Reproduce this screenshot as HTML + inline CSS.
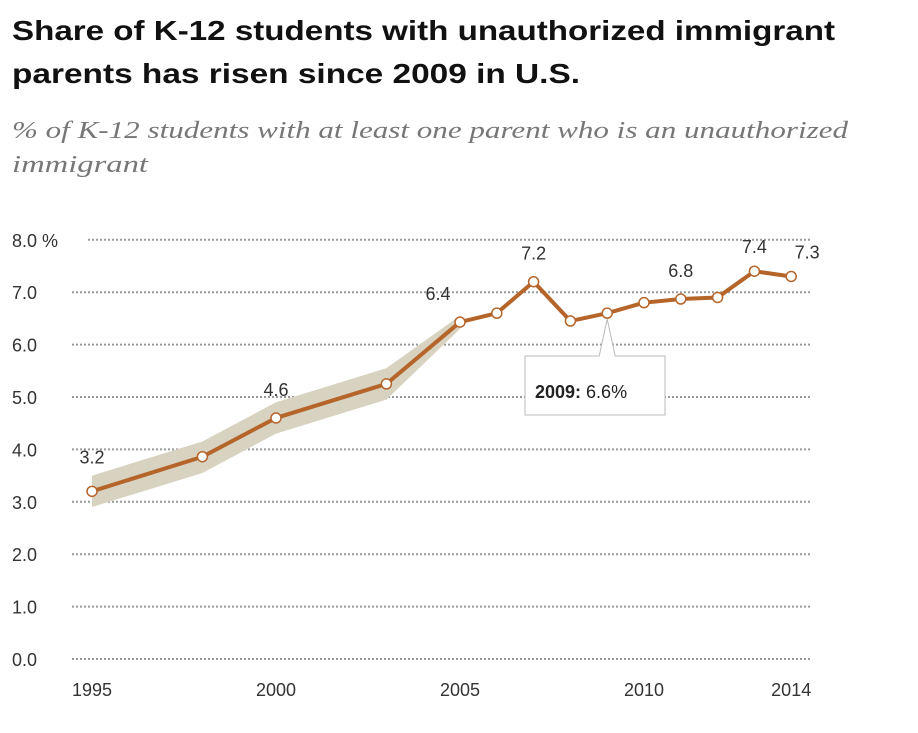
<!DOCTYPE html>
<html><head><meta charset="utf-8"><style>
body{margin:0;background:#fff;width:918px;height:728px;overflow:hidden;font-family:"Liberation Sans",sans-serif}
</style></head><body>
<svg width="918" height="728">
<text x="12" y="40" font-size="28" font-weight="bold" fill="#111" textLength="823" lengthAdjust="spacingAndGlyphs">Share of K-12 students with unauthorized immigrant</text>
<text x="12" y="83" font-size="28" font-weight="bold" fill="#111" textLength="568" lengthAdjust="spacingAndGlyphs">parents has risen since 2009 in U.S.</text>
<text x="12" y="138" font-size="24" font-style="italic" fill="#777" font-family="Liberation Serif" textLength="836" lengthAdjust="spacingAndGlyphs">% of K-12 students with at least one parent who is an unauthorized</text>
<text x="12" y="172" font-size="24" font-style="italic" fill="#777" font-family="Liberation Serif" textLength="136" lengthAdjust="spacingAndGlyphs">immigrant</text>
<g id="grid"></g><g id="band"></g><g id="line"></g><g id="pts"></g><g id="labels"></g>
</svg>
<script>
const years=[1995,1998,2000,2003,2005,2006,2007,2008,2009,2010,2011,2012,2013,2014];
const values=[3.2,3.86,4.6,5.25,6.43,6.6,7.2,6.45,6.6,6.8,6.87,6.9,7.4,7.3];
const bandYears=[1995,1998,2000,2003,2005];
const bandLow=[2.9,3.55,4.3,4.95,6.3];
const bandHigh=[3.5,4.15,4.9,5.55,6.55];
const yTicks=[0,1,2,3,4,5,6,7,8];
const xTicks=[1995,2000,2005,2010,2014];
const labelYears=[1995,2000,2005,2007,2011,2013,2014];
const labelText=["3.2","4.6","6.4","7.2","6.8","7.4","7.3"];
const X=y=>92+(y-1995)*36.8, Y=v=>659-v*52.4;
const ns="http://www.w3.org/2000/svg";
function mk(t,a,p){const e=document.createElementNS(ns,t);for(const k in a)e.setAttribute(k,a[k]);document.getElementById(p).appendChild(e);return e;}
yTicks.forEach(v=>{
 const l=mk('line',{x1:v==8?88:72,x2:810,y1:Y(v),y2:Y(v),stroke:'#999','stroke-width':2,'stroke-dasharray':'2,2'},'grid');
 
 
 const t=mk('text',{x:12,y:Y(v)+7,'font-size':18,fill:'#333'},'grid');t.textContent=v.toFixed(1)+(v==8?' %':'');
 
 
});
xTicks.forEach(y=>{const t=mk('text',{x:X(y),y:696,'font-size':18,fill:'#333','text-anchor':'middle'},'grid');t.textContent=y;
 
 });
let d=bandYears.map((y,i)=>(i?'L':'M')+X(y)+','+Y(bandHigh[i])).join('')+bandYears.slice().reverse().map((y,i)=>'L'+X(y)+','+Y(bandLow[bandYears.length-1-i])).join('')+'Z';
const b=mk('path',{d:d,fill:'#d8d2c0'},'band');


const ln=mk('polyline',{points:years.map((y,i)=>X(y)+','+Y(values[i])).join(' '),fill:'none',stroke:'#b5652a','stroke-width':4,'stroke-linejoin':'round'},'line');


years.forEach((y,i)=>{const c=mk('circle',{cx:X(y),cy:Y(values[i]),r:5,fill:'#fff',stroke:'#b5652a','stroke-width':1.5},'pts');
 
 });
labelYears.forEach((y,i)=>{const v=values[years.indexOf(y)];const t=mk('text',{x:X(y)+(y==2005?-22:y==2014?16:0),y:Y(v)-(y==1995?28:y==2013||y==2014?18:22),'font-size':18,fill:'#333','text-anchor':'middle'},'labels');t.textContent=labelText[i];
 
 });
const tx=X(2009),ty=Y(6.6)+6;
const tp=mk('path',{d:`M${tx},${ty} L${tx-8},356 L525,356 L525,415 L665,415 L665,356 L${tx+8},356 Z`,fill:'#fff',stroke:'#bbb','stroke-width':1},'labels');


const tt=mk('text',{x:535,y:398,'font-size':18,fill:'#222'},'labels');tt.innerHTML='<tspan font-weight="bold">2009:</tspan> 6.6%';


</script>
</body></html>
